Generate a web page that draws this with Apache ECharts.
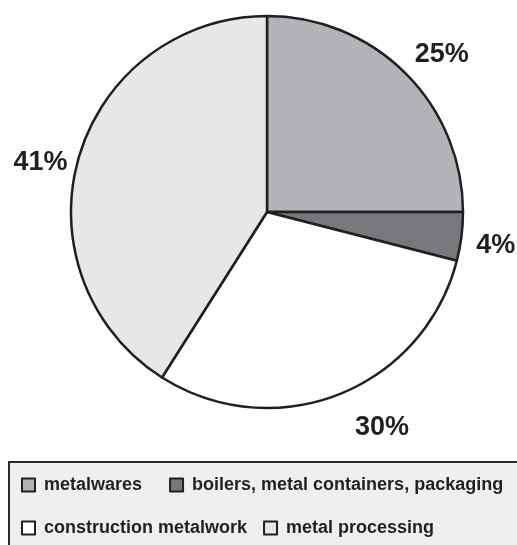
<!DOCTYPE html>
<html>
<head>
<meta charset="utf-8">
<script src="https://cdn.jsdelivr.net/npm/echarts@6/dist/echarts.min.js"></script>
<style>
html,body{margin:0;padding:0;background:#fff;}
#chart{width:517px;height:545px;}
</style>
</head>
<body>
<div id="chart"></div>
<script>
const categories = ['metalwares', 'boilers, metal containers, packaging', 'construction metalwork', 'metal processing'];
const shares = [25, 4, 30, 41];
const sliceColors = ['#b1b3b6', '#77787b', '#ffffff', '#e6e7e8'];
const legendRow1 = [categories[0], categories[1]];
const legendRow2 = [categories[2], categories[3]];

const FONT = '"Liberation Sans", Arial, sans-serif';
const chart = echarts.init(document.getElementById('chart'), null, {renderer: 'canvas'});

// small label nudges (styling only) relative to library's outside label placement
const labelNudge = [[-10, -5], [-10, 6], [3.5, 15], [13, 11]];

const legendCommon = {
  orient: 'horizontal',
  padding: 0,
  itemWidth: 21,
  itemHeight: 13,
  icon: 'path://M0,0L10,0L10,10L0,10Z',
  itemStyle: {borderColor: '#231f20', borderWidth: 2},
  textStyle: {fontFamily: FONT, fontWeight: 'bold', fontSize: 18, color: '#231f20'},
  selectedMode: false
};

chart.setOption({
  animation: false,
  backgroundColor: '#ffffff',
  graphic: [{
    type: 'rect', z: 0, silent: true,
    shape: {x: 9, y: 462, width: 530, height: 120},
    style: {fill: '#eeeff1', stroke: '#2b2b2b', lineWidth: 2}
  }],
  legend: [
    Object.assign({}, legendCommon, {left: 21, top: 476, itemGap: 27, data: legendRow1}),
    Object.assign({}, legendCommon, {left: 21, top: 519, itemGap: 16, data: legendRow2})
  ],
  series: [{
    type: 'pie',
    center: [267, 212],
    radius: 196,
    startAngle: 90,
    clockwise: true,
    avoidLabelOverlap: false,
    label: {
      show: true,
      position: 'outside',
      formatter: '{c}%',
      fontFamily: FONT,
      fontWeight: 'bold',
      fontSize: 27,
      color: '#231f20'
    },
    labelLine: {show: false, length: 20, length2: 0},
    labelLayout: function (p) {
      const n = labelNudge[p.dataIndex];
      const r = p.labelRect;
      return {
        x: r.x + r.width / 2 + n[0],
        y: r.y + r.height / 2 + n[1],
        align: 'center',
        verticalAlign: 'middle'
      };
    },
    itemStyle: {borderColor: '#231f20', borderWidth: 2.5},
    emphasis: {disabled: true},
    data: categories.map((name, i) => ({name, value: shares[i], itemStyle: {color: sliceColors[i]}}))
  }]
});
</script>
</body>
</html>
